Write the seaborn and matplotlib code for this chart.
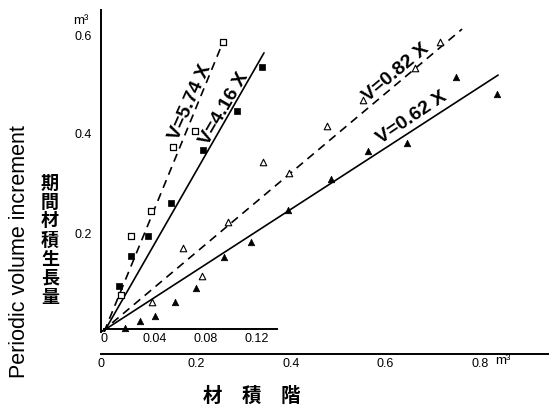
import matplotlib
matplotlib.use("Agg")
import matplotlib.pyplot as plt
import seaborn as sns
import pandas as pd

# === 1. Data ===
# inner scale: small-volume classes (x axis 0 - 0.12 m3)
sq_open_x = [0.0133, 0.0212, 0.0369, 0.0541, 0.0714, 0.0933]
sq_open_y = [0.075, 0.194, 0.244, 0.374, 0.406, 0.586]
sq_fill_x = [0.0118, 0.0212, 0.0345, 0.0525, 0.0776, 0.1043, 0.1240]
sq_fill_y = [0.093, 0.154, 0.194, 0.261, 0.368, 0.446, 0.535]

# outer scale: large-volume classes (x axis 0 - 0.8 m3)
tri_open_x = [0.107, 0.173, 0.213, 0.268, 0.341, 0.397, 0.477, 0.553, 0.662, 0.715]
tri_open_y = [0.061, 0.170, 0.113, 0.222, 0.343, 0.321, 0.416, 0.469, 0.533, 0.586]
tri_fill_x = [0.050, 0.082, 0.113, 0.156, 0.200, 0.259, 0.316, 0.394, 0.485,
              0.563, 0.646, 0.749, 0.836]
tri_fill_y = [0.008, 0.022, 0.032, 0.061, 0.089, 0.152, 0.182, 0.246, 0.309,
              0.366, 0.382, 0.515, 0.481]

# regression lines through the origin: end points as drawn
line_574_end = [0.094, 0.590]
line_416_end = [0.1255, 0.564]
line_082_end = [0.762, 0.612]
line_062_end = [0.838, 0.519]

inner_ticks = [0, 0.04, 0.08, 0.12]
inner_labels = ["0", "0.04", "0.08", "0.12"]
outer_ticks = [0, 0.2, 0.4, 0.6, 0.8]
outer_labels = ["0", "0.2", "0.4", "0.6", "0.8"]
y_ticks = [0.2, 0.4, 0.6]
y_labels = ["0.2", "0.4", "0.6"]

# === 2. Setup ===
sns.set_style("white")
plt.rcParams['font.family'] = ['Liberation Sans', 'Noto Sans CJK JP', 'DejaVu Sans']
for k in ['text.color', 'axes.labelcolor', 'xtick.color', 'ytick.color']:
    plt.rcParams[k] = 'black'
cjk = ['Noto Sans CJK JP', 'DejaVu Sans']

W, H = 549, 405
fig = plt.figure(figsize=(W / 100, H / 100), dpi=100)
ax = fig.add_axes([101.3 / W, 73 / H, 447.7 / W, 0.65 * 495 / H])
ax2 = fig.add_axes([104 / W, 73 / H, 445 / W, 0.65 * 495 / H])

ax.set_xlim(0, 447.7 / 473.5)
ax.set_ylim(0, 0.65)
ax2.set_xlim(0, 445 / 1275)
ax2.set_ylim(0, 0.65)
ax2.patch.set_visible(False)

# === 3. Points ===
df_so = pd.DataFrame({'x': sq_open_x, 'y': sq_open_y})
df_sf = pd.DataFrame({'x': sq_fill_x, 'y': sq_fill_y})
df_to = pd.DataFrame({'x': tri_open_x, 'y': tri_open_y})
df_tf = pd.DataFrame({'x': tri_fill_x, 'y': tri_fill_y})

sns.scatterplot(data=df_so, x='x', y='y', ax=ax2, marker='s', s=24,
                facecolor='white', edgecolor='black', linewidth=0.9, zorder=4)
sns.scatterplot(data=df_sf, x='x', y='y', ax=ax2, marker='s', s=24,
                color='black', edgecolor='black', linewidth=0.5, zorder=4)
sns.scatterplot(data=df_to, x='x', y='y', ax=ax, marker='^', s=22,
                facecolor='white', edgecolor='black', linewidth=0.8, zorder=4)
sns.scatterplot(data=df_tf, x='x', y='y', ax=ax, marker='^', s=22,
                color='black', edgecolor='black', linewidth=0.5, zorder=4)

# === 4. Lines ===
dash = (0, (5, 3.5))
sns.lineplot(x=[0, line_574_end[0]], y=[0, line_574_end[1]], ax=ax2,
             color='black', lw=1.2, linestyle=dash)
sns.lineplot(x=[0, line_416_end[0]], y=[0, line_416_end[1]], ax=ax2,
             color='black', lw=1.2)
sns.lineplot(x=[0, line_082_end[0]], y=[0, line_082_end[1]], ax=ax,
             color='black', lw=1.2, linestyle=dash)
sns.lineplot(x=[0, line_062_end[0]], y=[0, line_062_end[1]], ax=ax,
             color='black', lw=1.2)

lab = dict(ha='center', va='center', rotation_mode='anchor',
           fontsize=14, fontweight='bold', color='black')
ax2.text(0.068, 0.465, "V=5.74 X", rotation=66, **lab)
ax2.text(0.0945, 0.450, "V=4.16 X", rotation=60, **lab)
ax.text(0.622, 0.523, "V=0.82 X", rotation=40, **lab)
ax.text(0.656, 0.432, "V=0.62 X", rotation=34, **lab)

# === 5. Axes ===
for s in ['top', 'right']:
    ax.spines[s].set_visible(False)
ax.spines['left'].set_bounds(0, 0.65)
ax.spines['bottom'].set_position(('outward', 16))
for s in ['left', 'bottom']:
    ax.spines[s].set_linewidth(1.4)
    ax.spines[s].set_color('black')
ax.set_xticks(outer_ticks, outer_labels)
ax.set_yticks(y_ticks, y_labels)
ax.tick_params(axis='x', direction='in', length=5, width=1.2, pad=3, labelsize=9)
ax.tick_params(axis='y', direction='inout', length=7, width=1.2, pad=3, labelsize=9)

for s in ['top', 'right', 'left']:
    ax2.spines[s].set_visible(False)
ax2.spines['bottom'].set_position(('data', 0.006))
ax2.spines['bottom'].set_bounds(0, 0.136)
ax2.spines['bottom'].set_linewidth(1.4)
ax2.spines['bottom'].set_color('black')
ax2.set_xticks(inner_ticks, inner_labels)
ax2.set_yticks([])
ax2.tick_params(axis='x', direction='in', length=5, width=1.2, pad=3, labelsize=9)
ax2.set_xlabel("")
ax2.set_ylabel("")
ax.set_xlabel("")
ax.set_ylabel("")

# units
fig.text(81 / W, 1 - 21 / H, "m³", ha='center', va='center', fontsize=9.5)
fig.text(503 / W, 1 - 361 / H, "m³", ha='center', va='center', fontsize=9.5)

# === 6. Axis titles ===
fig.text(20 / W, 1 - 252 / H, "Periodic volume increment", rotation=90,
         ha='center', va='center', fontsize=15.5)
fig.text(50 / W, 1 - 240 / H, "\n".join("期間材積生長量"), ha='center',
         va='center', fontsize=13, family=cjk, fontweight='bold', linespacing=1.0)
fig.text(252 / W, 1 - 396 / H, "材\u3000積\u3000階", ha='center', va='center',
         fontsize=14, family=cjk, fontweight='bold')

fig.savefig("out.png", dpi=100, facecolor='white')
